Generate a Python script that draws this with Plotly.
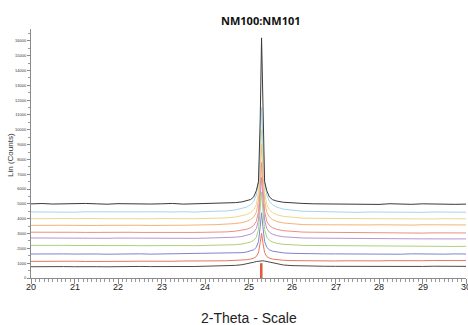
import plotly.graph_objects as go

# 2-theta grid (degrees)
two_theta = [20.0, 20.25, 20.5, 20.75, 21.0, 21.25, 21.5, 21.75, 22.0, 22.25, 22.5, 22.75,
             23.0, 23.25, 23.5, 23.75, 24.0, 24.25, 24.5, 24.7, 24.85, 24.95, 25.05, 25.12,
             25.18, 25.23, 25.27, 25.3, 25.33, 25.37, 25.42, 25.48, 25.55, 25.65, 25.8, 26.0,
             26.25, 26.5, 26.75, 27.0, 27.25, 27.5, 27.75, 28.0, 28.25, 28.5, 28.75, 29.0,
             29.25, 29.5, 29.75, 30.0]

scan_top_black = [5000, 5025, 4990, 5010, 4985, 5030, 5005, 4980, 5015, 4995, 5020, 4990, 5005, 5030, 4985, 5010,
                  5015, 5030, 5045, 5085, 5135, 5195, 5295, 5475, 5890, 6500, 10800, 16200, 10800, 6500, 5890, 5470,
                  5290, 5190, 5110, 5060, 5030, 5005, 4995, 4990,
                  4975, 5000, 4990, 4965, 5010, 4985, 4970, 5005, 4980, 4995, 4970, 4985]
scan_light_blue = [4460, 4445, 4475, 4455, 4440, 4470, 4460, 4450, 4475, 4445, 4460, 4470, 4450, 4455, 4475, 4445,
                   4483, 4497, 4526, 4596, 4681, 4779, 4949, 5174, 5590, 6584, 9164, 11500, 9164, 6584, 5590, 5174,
                   4949, 4779, 4645, 4561, 4504, 4490, 4465, 4460,
                   4445, 4430, 4455, 4440, 4425, 4450, 4445, 4430, 4455, 4440, 4425, 4440]
scan_yellow = [4000, 4015, 3990, 4010, 4005, 3985, 4010, 4000, 3990, 4015, 4000, 3995, 4010, 3990, 4005, 4000,
               4019, 4031, 4055, 4115, 4187, 4271, 4415, 4607, 4961, 5807, 8003, 10000, 8003, 5807, 4961, 4607,
               4415, 4271, 4157, 4085, 4037, 4025, 4013, 4005,
               3990, 4005, 3985, 4000, 3995, 3980, 4000, 3990, 3985, 4000, 3980, 3990]
scan_orange = [3550, 3565, 3545, 3560, 3550, 3570, 3545, 3555, 3565, 3550, 3560, 3545, 3570, 3555, 3560, 3550,
               3587, 3598, 3620, 3674, 3739, 3816, 3947, 4121, 4442, 5211, 7206, 9000, 7206, 5211, 4442, 4121,
               3947, 3816, 3712, 3647, 3603, 3592, 3581, 3576,
               3585, 3570, 3580, 3590, 3575, 3585, 3570, 3590, 3580, 3575, 3590, 3580]
scan_salmon = [3090, 3100, 3080, 3095, 3085, 3075, 3090, 3080, 3070, 3085, 3075, 3065, 3080, 3070, 3060, 3075,
               3084, 3093, 3112, 3160, 3216, 3283, 3396, 3547, 3827, 4493, 6225, 7800, 6225, 4493, 3827, 3547,
               3396, 3283, 3193, 3136, 3098, 3089, 3079, 3074,
               3055, 3040, 3055, 3045, 3035, 3050, 3040, 3030, 3045, 3040, 3030, 3040]
scan_purple = [2700, 2690, 2710, 2695, 2685, 2700, 2690, 2680, 2695, 2685, 2675, 2690, 2680, 2670, 2685, 2675,
               2687, 2695, 2711, 2753, 2802, 2860, 2959, 3091, 3335, 3917, 5429, 6800, 5429, 3917, 3335, 3091,
               2959, 2860, 2782, 2732, 2699, 2691, 2682, 2678,
               2655, 2640, 2650, 2635, 2645, 2630, 2645, 2640, 2625, 2640, 2635, 2640]
scan_green = [2200, 2215, 2195, 2205, 2190, 2210, 2195, 2185, 2200, 2190, 2180, 2195, 2185, 2175, 2190, 2180,
              2190, 2197, 2211, 2248, 2291, 2342, 2429, 2545, 2759, 3271, 4600, 5805, 4600, 3271, 2759, 2545,
              2429, 2342, 2273, 2229, 2200, 2193, 2186, 2182,
              2160, 2145, 2155, 2140, 2150, 2135, 2145, 2130, 2145, 2140, 2130, 2140]
scan_blue = [1620, 1635, 1610, 1625, 1615, 1630, 1620, 1605, 1625, 1615, 1630, 1610, 1620, 1635, 1615, 1625,
             1631, 1637, 1648, 1676, 1709, 1748, 1815, 1904, 2068, 2460, 3477, 4400, 3477, 2460, 2068, 1904,
             1815, 1748, 1695, 1662, 1639, 1634, 1628, 1626,
             1615, 1630, 1610, 1625, 1620, 1605, 1630, 1615, 1620, 1610, 1625, 1620]
scan_red = [1120, 1130, 1110, 1125, 1135, 1115, 1130, 1120, 1140, 1125, 1135, 1120, 1140, 1130, 1145, 1135,
            1153, 1156, 1164, 1183, 1205, 1231, 1277, 1337, 1448, 1713, 2401, 3025, 2401, 1713, 1448, 1337,
            1277, 1231, 1196, 1173, 1158, 1154, 1151, 1149,
            1160, 1150, 1165, 1155, 1170, 1160, 1175, 1165, 1180, 1170, 1165, 1175]
scan_bottom_black = [760, 775, 755, 770, 760, 780, 765, 755, 775, 765, 780, 770, 760, 780, 770, 775,
                     795, 804, 823, 853, 895, 940, 1005, 1062, 1111, 1145, 1161, 1165, 1161, 1145, 1111, 1062,
                     1005, 940, 878, 835, 810, 798, 791, 787,
                     780, 795, 785, 775, 795, 785, 790, 780, 795, 785, 790, 785]

ref_position = [25.3]
ref_intensity = [1000]

x_tick_values = [20, 21, 22, 23, 24, 25, 26, 27, 28, 29, 30]
x_tick_labels = ["20", "21", "22", "23", "24", "25", "26", "27", "28", "29", "30"]

series = [
    (scan_bottom_black, "#4a4a4a"),
    (scan_red, "#e8765a"),
    (scan_blue, "#7b86cc"),
    (scan_green, "#a9d27a"),
    (scan_purple, "#b695d0"),
    (scan_salmon, "#ee8c86"),
    (scan_orange, "#f5b27a"),
    (scan_yellow, "#ead88c"),
    (scan_light_blue, "#a9d4ea"),
    (scan_top_black, "#3a3a3a"),
]

fig = go.Figure()
fig.add_trace(go.Bar(x=ref_position, y=ref_intensity, width=0.045,
                     marker=dict(color="#e05a3c", line=dict(width=0)), showlegend=False))
for ys, col in series:
    fig.add_trace(go.Scatter(x=two_theta, y=ys, mode="lines",
                             line=dict(color=col, width=1), showlegend=False))

annotations = [
    dict(text="<b>NM100:NM101</b>", xref="paper", yref="paper", x=0.529, y=1.036,
         xanchor="center", yanchor="middle", showarrow=False,
         font=dict(family="Open Sans, sans-serif", size=11, color="#111")),
    dict(text="Lin (Counts)", xref="paper", yref="paper", x=-0.046, y=0.494,
         xanchor="center", yanchor="middle", textangle=-90, showarrow=False,
         font=dict(size=8, color="#333")),
    dict(text="2-Theta - Scale", xref="paper", yref="paper", x=0.501, y=-0.16,
         xanchor="center", yanchor="middle", showarrow=False,
         font=dict(size=14, color="#222")),
]
for tv, tl in zip(x_tick_values, x_tick_labels):
    annotations.append(dict(text=tl, x=tv, xref="x", yref="paper", y=-0.037,
                            xanchor="center", yanchor="middle", showarrow=False,
                            font=dict(size=9, color="#222")))

fig.update_layout(
    width=468, height=325,
    margin=dict(l=31, r=2, t=29, b=47),
    paper_bgcolor="white", plot_bgcolor="white",
    font=dict(family="Liberation Sans, Arial, sans-serif", color="#222"),
    xaxis=dict(range=[20, 30], dtick=1, tick0=20, showgrid=False, zeroline=False,
               showline=True, linecolor="#8a8a8a", linewidth=1,
               ticks="outside", ticklen=5, tickcolor="#8a8a8a", showticklabels=False,
               minor=dict(dtick=0.1, ticks="outside", ticklen=3, tickcolor="#9a9a9a")),
    yaxis=dict(range=[0, 16800], dtick=1000, tick0=0, showgrid=False, zeroline=False,
               showline=True, linecolor="#8a8a8a", linewidth=1,
               ticks="outside", ticklen=3, tickcolor="#8a8a8a",
               minor=dict(dtick=500, ticks="outside", ticklen=2, tickcolor="#9a9a9a"),
               tickfont=dict(size=4, color="#333"), tickformat="d"),
    annotations=annotations,
)

fig.write_html("out.html", config={"displayModeBar": False},
               post_script="document.body.style.margin='0px';")
